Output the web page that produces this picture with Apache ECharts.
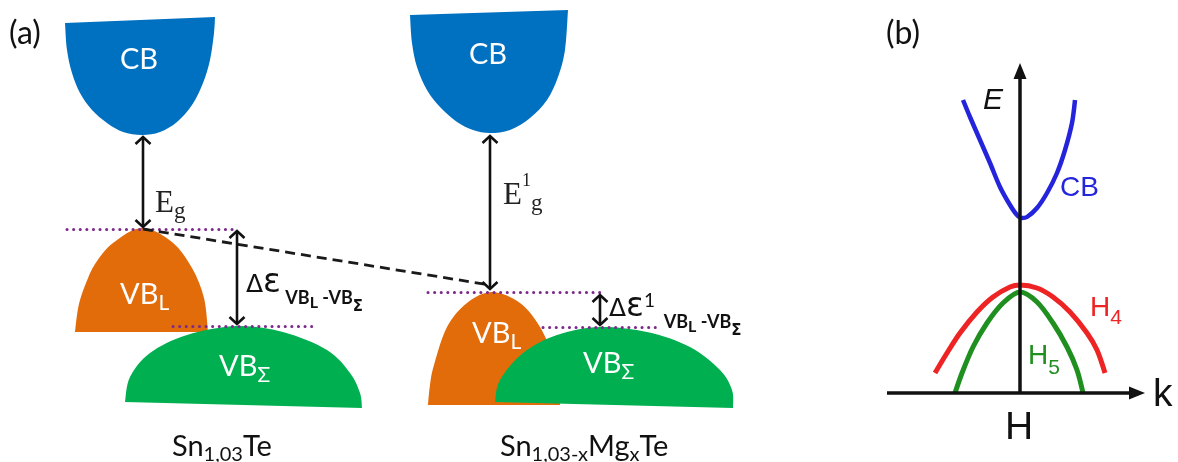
<!DOCTYPE html>
<html><head><meta charset="utf-8">
<script src="https://cdn.jsdelivr.net/npm/echarts@6/dist/echarts.min.js"></script>
<style>html,body{margin:0;padding:0;background:#fff}#c{width:1178px;height:462px}</style>
</head><body><div id="c"></div>
<script>
// ---- panel (a): band outlines (x, y in picture pixels, y grows downward)
const cbLeftOutline   = [[65,23],[67,50],[72,73],[80,93],[92,110],[107,123],[123,132],[142,135],[160,132],[177,122],[192,105],[203,83],[210,60],[214,33],[215,17]];
const cbRightOutline  = [[410,15],[412,43],[417,67],[427,90],[440,107],[457,122],[473,130],[490,133],[510,130],[530,118],[547,100],[558,77],[565,50],[568,10]];
const vbLLeftOutline  = [[75,332],[77,315],[80,300],[86,283],[95,264],[113,243],[142,228],[172,242],[192,268],[204,298],[208,332]];
const vbSLeftOutline  = [[125,402],[130,377],[150,353],[187,335],[237,326],[283,332],[327,350],[350,373],[360,393],[362,408]];
const vbLRightOutline = [[428,405],[430,385],[434,365],[447,327],[467,303],[492,292],[520,303],[540,327],[553,357],[558,380],[560,405]];
const vbSRightOutline = [[495,402],[500,380],[523,353],[557,335],[600,327],[647,332],[690,347],[720,370],[732,390],[733,408]];
const bandNames  = ['CB', 'CB', 'VB_L', 'VB_Σ', 'VB_L', 'VB_Σ'];
const bandColors = ['#0070C0', '#0070C0', '#E36C0A', '#00B050', '#E36C0A', '#00B050'];
const bandOutlines = [cbLeftOutline, cbRightOutline, vbLLeftOutline, vbSLeftOutline, vbLRightOutline, vbSRightOutline];

// energy gaps: [x, top y, bottom y]
const gapArrows = [[143,136,228],[237,230,325],[490,135,290],[600,294,326]];
// dotted band-edge levels: [x start, x end, y]
const dottedLevels = [[67,238,229],[173,318,326],[428,600,292],[543,658,327]];
// dashed shift of the VB_L maximum
const vbmShift = [[143,229],[490,285]];

// ---- panel (b): dispersion curves
const cbDispersion = [[963,100],[970,117],[980,140],[990,163],[1000,187],[1010,205],[1017,215],[1022,218],[1027,217],[1037,208],[1047,193],[1057,173],[1065,150],[1072,123],[1075,100]];
const h4Dispersion = [[935,373],[947,353],[960,333],[977,312],[993,297],[1010,287],[1020,285],[1037,288],[1053,297],[1070,312],[1087,333],[1097,350],[1105,373]];
const h5Dispersion = [[955,393],[962,373],[973,347],[987,323],[1003,303],[1020,292],[1037,302],[1053,323],[1067,347],[1077,370],[1083,393]];
const kAxisLine = [[887,393],[1145,393]];
const eAxisLine = [[1020,393],[1020,63]];

// ---- texts: [text, anchor x, baseline y, align, style set]
const labels = [
  ['{p|(a)}', 9, 43, 'left', 'paren'],
  ['{w|CB}', 139, 68, 'center', 'bandW'],
  ['{w|CB}', 488, 63, 'center', 'bandW'],
  ['{E|E}{g|g}', 155, 213, 'left', 'eg'],
  ['{E|E}{u|1}{g|g}', 503, 205, 'left', 'eg'],
  ['{d|Δ}{e|ε}{s| VB}{l|L}{s| -VB}{z|Σ}', 246, 293, 'left', 'de'],
  ['{d|Δ}{e|ε}{u|1}{s|  VB}{l|L}{s| -VB}{z|Σ}', 609, 317, 'left', 'de'],
  ['{w|VB}{ws|L}', 120, 303, 'left', 'bandW'],
  ['{w|VB}{ws|Σ}', 219, 375, 'left', 'bandW'],
  ['{w|VB}{ws|L}', 472, 342, 'left', 'bandW'],
  ['{w|VB}{ws|Σ}', 583, 372, 'left', 'bandW'],
  ['{m|Sn}{s|1,03}{m|Te}', 172, 455, 'left', 'formula'],
  ['{m|Sn}{s|1,03-x}{m|Mg}{s|x}{m|Te}', 500, 455, 'left', 'formula'],
  ['{p|(b)}', 886, 43, 'left', 'paren'],
  ['{i|E}', 983, 110, 'left', 'axisE'],
  ['{b|CB}', 1060, 197, 'left', 'cbB'],
  ['{r|H}{rs|4}', 1090, 317, 'left', 'h4'],
  ['{g|H}{gs|5}', 1028, 365, 'left', 'h5'],
  ['{k|k}', 1153, 407, 'left', 'kH'],
  ['{k|H}', 1005, 440, 'left', 'kH']
];

// ---- text styling helpers (token placed so that its baseline sits dy below the main baseline)
const LINE = 90, BASE = 60;
function tok(fs, dy, fam, fill, extra) {
  return Object.assign({
    fontSize: fs, fontFamily: fam, fill: fill, lineHeight: LINE, verticalAlign: 'top',
    padding: [Math.max(0, BASE + dy - 0.8 * fs), 0, 0, 0]
  }, extra || {});
}
const LA = 'Lato', DV = 'DejaVu Sans', SER = 'Liberation Serif', AR = 'Liberation Sans';
const DARK = '#111111';
const styleSets = {
  paren: { p: tok(32, 0, LA, DARK) },
  bandW: { w: tok(29, 0, LA, '#ffffff'), ws: tok(21, 7, LA, '#ffffff') },
  eg: { E: tok(31, 0, SER, '#222'), g: tok(23, 6, SER, '#222'), u: tok(18, -18, SER, '#222') },
  de: { d: tok(25, 0, DV, DARK), e: tok(33, 0, DV, DARK), u: tok(19, -10, LA, DARK),
        s: tok(18, 11, LA, DARK, {fontWeight: 'bold'}), l: tok(16, 15, LA, DARK, {fontWeight: 'bold'}),
        z: tok(15, 19, DV, DARK, {fontWeight: 'bold'}) },
  formula: { m: tok(29, 0, LA, DARK), s: tok(20, 6, LA, DARK) },
  axisE: { i: tok(30, 0, AR, DARK, {fontStyle: 'italic'}) },
  cbB: { b: tok(28, 0, AR, '#2424dc') },
  h4: { r: tok(28, 0, AR, '#ee2424'), rs: tok(21, 8, AR, '#ee2424') },
  h5: { g: tok(28, 0, AR, '#1f8f1f'), gs: tok(21, 10, AR, '#1f8f1f') },
  kH: { k: tok(39, 0, AR, DARK) }
};

function smoothPath(pts) {
  let d = 'M' + pts[0][0] + ',' + pts[0][1];
  for (let i = 0; i < pts.length - 1; i++) {
    const p0 = pts[i - 1] || pts[i], p1 = pts[i], p2 = pts[i + 1], p3 = pts[i + 2] || pts[i + 1];
    const c1 = [p1[0] + (p2[0] - p0[0]) / 6, p1[1] + (p2[1] - p0[1]) / 6];
    const c2 = [p2[0] - (p3[0] - p1[0]) / 6, p2[1] - (p3[1] - p1[1]) / 6];
    d += ' C' + c1[0] + ',' + c1[1] + ' ' + c2[0] + ',' + c2[1] + ' ' + p2[0] + ',' + p2[1];
  }
  return d + ' Z';
}

const chart = echarts.init(document.getElementById('c'), null, {renderer: 'canvas'});
chart.setOption({
  animation: false,
  backgroundColor: '#ffffff',
  grid: {left: 0, right: 0, top: 0, bottom: 0},
  xAxis: {type: 'value', min: 0, max: 1178, show: false},
  yAxis: {type: 'value', min: 0, max: 462, inverse: true, show: false},
  series: [
    { // filled bands
      type: 'custom', clip: false, z: 1,
      data: bandOutlines.map(o => o[0]),
      renderItem: function (params, api) {
        const pts = bandOutlines[params.dataIndex].map(p => api.coord(p));
        return {type: 'path', shape: {pathData: smoothPath(pts)},
                style: {fill: bandColors[params.dataIndex], stroke: null}};
      }
    },
    { // dotted band edges
      type: 'lines', coordinateSystem: 'cartesian2d', z: 3, silent: true,
      data: dottedLevels.map(d => ({coords: [[d[0], d[2]], [d[1], d[2]]]})),
      lineStyle: {color: '#7d2a8c', width: 3, type: [0.1, 6.5], cap: 'round', opacity: 1}
    },
    { // dashed VB_L shift
      type: 'lines', coordinateSystem: 'cartesian2d', z: 3, silent: true,
      data: [{coords: vbmShift}],
      lineStyle: {color: '#1a1a1a', width: 2.8, type: [10, 6], opacity: 1}
    },
    { // double arrows
      type: 'custom', clip: false, z: 4,
      data: gapArrows.map(a => [a[0], a[1]]),
      renderItem: function (params, api) {
        const a = gapArrows[params.dataIndex];
        const t = api.coord([a[0], a[1]]), b = api.coord([a[0], a[2]]);
        const st = {stroke: '#111', lineWidth: 2.6, fill: null, lineJoin: 'miter'};
        const hw = 7.5, hl = 8;
        return {type: 'group', children: [
          {type: 'line', shape: {x1: t[0], y1: t[1] + 1, x2: b[0], y2: b[1] - 1}, style: st},
          {type: 'polyline', shape: {points: [[t[0] - hw, t[1] + hl], [t[0], t[1] + 1], [t[0] + hw, t[1] + hl]]}, style: st},
          {type: 'polyline', shape: {points: [[b[0] - hw, b[1] - hl], [b[0], b[1] - 1], [b[0] + hw, b[1] - hl]]}, style: st}
        ]};
      }
    },
    { type: 'line', data: cbDispersion, smooth: 0.3, symbol: 'none', z: 2,
      lineStyle: {color: '#2424dc', width: 4.5} },
    { type: 'line', data: h4Dispersion, smooth: 0.3, symbol: 'none', z: 2,
      lineStyle: {color: '#ee2424', width: 5} },
    { type: 'line', data: h5Dispersion, smooth: 0.3, symbol: 'none', z: 2,
      lineStyle: {color: '#1f8f1f', width: 5} },
    { // k and E axes with filled arrow heads
      type: 'custom', clip: false, z: 5,
      data: [kAxisLine[0], eAxisLine[0]],
      renderItem: function (params, api) {
        const ln = params.dataIndex === 0 ? kAxisLine : eAxisLine;
        const s = api.coord(ln[0]), e = api.coord(ln[1]);
        const dx = e[0] - s[0], dy = e[1] - s[1], L = Math.hypot(dx, dy);
        const ux = dx / L, uy = dy / L, hl = 16, hw = 6.5;
        const bx = e[0] - ux * hl, by = e[1] - uy * hl;
        return {type: 'group', children: [
          {type: 'line', shape: {x1: s[0], y1: s[1], x2: bx + ux * 2, y2: by + uy * 2}, style: {stroke: '#111', lineWidth: 3.5}},
          {type: 'polygon', shape: {points: [[e[0], e[1]], [bx - uy * hw, by + ux * hw], [bx + uy * hw, by - ux * hw]]}, style: {fill: '#111'}}
        ]};
      }
    },
    { // all texts
      type: 'custom', clip: false, z: 10,
      data: labels.map(l => [l[1], l[2]]),
      renderItem: function (params, api) {
        const l = labels[params.dataIndex];
        const p = api.coord([l[1], l[2]]);
        return {type: 'text', x: p[0], y: p[1] - BASE,
                style: {text: l[0], rich: styleSets[l[4]], align: l[3], verticalAlign: 'top',
                        fontSize: 20, fontFamily: LA, fill: DARK}};
      }
    }
  ]
});
</script>
</body></html>
